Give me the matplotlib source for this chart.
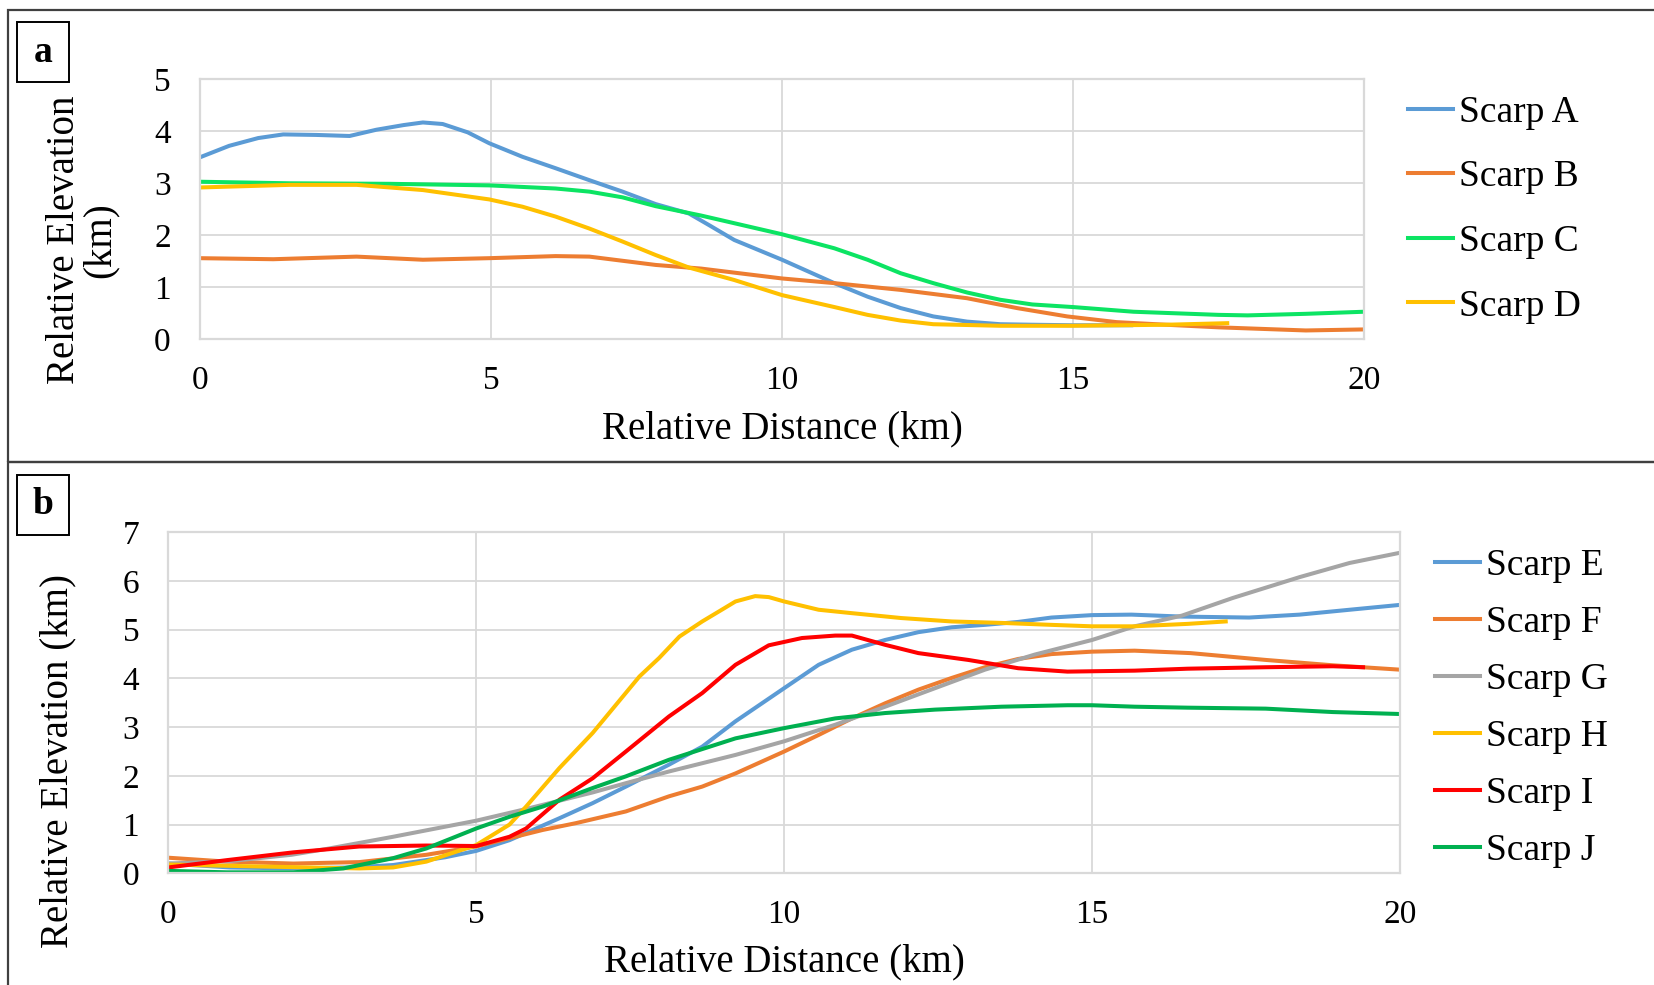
import matplotlib
matplotlib.use("Agg")
import matplotlib.pyplot as plt
from matplotlib.patches import Rectangle

plt.rcParams['font.family'] = ['Liberation Serif', 'DejaVu Serif']

# ---- panel a data (km) ----
a_x = [0, 0.5, 1.0, 1.43, 2.0, 2.57, 3.03, 3.5, 3.83, 4.17, 4.6, 4.97, 5.54, 6.11, 6.69,
       7.26, 7.83, 8.4, 8.74, 9.18, 10, 10.9, 11.47, 12.04, 12.6, 13.18, 13.75, 14.3, 15, 16]
a_y = [3.5, 3.72, 3.87, 3.94, 3.93, 3.91, 4.03, 4.12, 4.17, 4.14, 3.98, 3.77, 3.51, 3.29, 3.06,
       2.84, 2.6, 2.42, 2.2, 1.91, 1.53, 1.08, 0.82, 0.6, 0.44, 0.34, 0.29, 0.28, 0.27, 0.27]

b_x = [0, 1.26, 2.69, 3.83, 4.97, 6.11, 6.69, 7.26, 7.83, 8.61, 10, 10.9, 12.04, 13.18,
       14.04, 14.9, 15.75, 16.6, 17.5, 18, 19, 20]
b_y = [1.56, 1.54, 1.59, 1.53, 1.56, 1.60, 1.59, 1.51, 1.43, 1.36, 1.17, 1.08, 0.95, 0.79,
       0.6, 0.44, 0.33, 0.28, 0.23, 0.21, 0.17, 0.19]

c_x = [0, 1.54, 3.26, 4.97, 6.11, 6.69, 7.26, 7.83, 8.61, 10, 10.9, 11.47, 12.04, 12.6,
       13.18, 13.75, 14.3, 15, 16.04, 17.5, 18, 19, 20]
c_y = [3.03, 3.0, 2.99, 2.96, 2.90, 2.84, 2.73, 2.56, 2.38, 2.02, 1.75, 1.53, 1.27, 1.08,
       0.9, 0.76, 0.67, 0.62, 0.53, 0.47, 0.46, 0.49, 0.53]

d_x = [0, 1.54, 2.69, 3.83, 4.97, 5.54, 6.11, 6.69, 7.26, 7.83, 8.4, 9.18, 10, 10.9,
       11.47, 12.04, 12.6, 13.75, 15, 16.6, 17.65]
d_y = [2.92, 2.97, 2.97, 2.87, 2.69, 2.55, 2.36, 2.13, 1.88, 1.62, 1.38, 1.14, 0.85, 0.62,
       0.47, 0.36, 0.29, 0.26, 0.26, 0.28, 0.31]

# ---- panel b data (km) ----
e_x = [0, 1, 2, 3, 3.65, 4.5, 5, 5.54, 6.35, 6.89, 7.43, 8.13, 8.67, 9.21, 10, 10.56, 11.1,
       11.64, 12.18, 12.72, 13.26, 13.8, 14.34, 15, 15.64, 16.46, 17.55, 18.37, 19.18, 20]
e_y = [0.2, 0.12, 0.1, 0.12, 0.17, 0.33, 0.46, 0.68, 1.13, 1.44, 1.78, 2.23, 2.6, 3.12, 3.8,
       4.28, 4.59, 4.79, 4.95, 5.05, 5.1, 5.16, 5.25, 5.3, 5.31, 5.27, 5.25, 5.31, 5.41, 5.51]

f_x = [0, 0.95, 2.03, 3.1, 4.19, 5, 5.54, 6.08, 6.62, 7.43, 8.13, 8.67, 9.21, 10, 10.56,
       11.1, 11.64, 12.18, 12.72, 13.26, 13.8, 14.34, 15, 15.69, 16.6, 17.82, 18.91, 20]
f_y = [0.32, 0.24, 0.2, 0.23, 0.38, 0.55, 0.72, 0.89, 1.03, 1.27, 1.58, 1.78, 2.05, 2.5,
       2.84, 3.18, 3.49, 3.77, 4.01, 4.23, 4.4, 4.5, 4.55, 4.57, 4.52, 4.38, 4.27, 4.18]

g_x = [0, 1, 2, 2.57, 3.65, 5, 5.81, 6.89, 7.43, 8.13, 9.21, 10, 10.83, 11.64, 12.45,
       13.26, 14.07, 15, 15.69, 16.46, 17.28, 18.37, 19.18, 20]
g_y = [0.2, 0.25, 0.38, 0.5, 0.75, 1.08, 1.32, 1.66, 1.85, 2.09, 2.43, 2.71, 3.05, 3.42,
       3.8, 4.18, 4.49, 4.79, 5.07, 5.29, 5.65, 6.08, 6.37, 6.58]

h_x = [0, 1.49, 3.1, 3.65, 4.19, 5, 5.54, 5.81, 6.35, 6.89, 7.65, 7.97, 8.3, 8.67, 9.0, 9.21,
       9.53, 9.75, 10, 10.56, 11.1, 11.9, 12.72, 13.53, 14.34, 15, 15.69, 16.55, 17.17]
h_y = [0.18, 0.14, 0.1, 0.12, 0.24, 0.58, 1.0, 1.37, 2.16, 2.88, 4.04, 4.42, 4.86, 5.17, 5.42,
       5.58, 5.69, 5.67, 5.58, 5.41, 5.34, 5.24, 5.17, 5.14, 5.1, 5.07, 5.07, 5.12, 5.17]

i_x = [0, 0.95, 2.03, 3.1, 4.19, 5, 5.54, 5.81, 6.35, 6.89, 7.43, 8.13, 8.67, 9.21, 9.75,
       10.29, 10.83, 11.1, 11.64, 12.18, 12.99, 13.8, 14.6, 15.69, 16.55, 17.82, 18.91, 19.4]
i_y = [0.12, 0.27, 0.43, 0.55, 0.57, 0.56, 0.75, 0.92, 1.51, 1.95, 2.5, 3.22, 3.7, 4.28,
       4.68, 4.83, 4.88, 4.88, 4.69, 4.52, 4.38, 4.21, 4.14, 4.16, 4.2, 4.23, 4.25, 4.23]

j_x = [0, 0.95, 2.03, 2.84, 3.65, 4.19, 5, 5.54, 6.08, 6.89, 7.43, 8.13, 9.21, 10, 10.83,
       11.64, 12.45, 13.53, 14.6, 15, 15.69, 16.55, 17.82, 18.91, 20]
j_y = [0.05, 0.02, 0.02, 0.1, 0.31, 0.51, 0.92, 1.16, 1.37, 1.75, 1.99, 2.33, 2.77, 2.98,
       3.18, 3.29, 3.36, 3.42, 3.45, 3.45, 3.42, 3.4, 3.38, 3.31, 3.27]

panel_a = [("Scarp A", a_x, a_y, "#5b9bd5"), ("Scarp B", b_x, b_y, "#ed7d31"),
           ("Scarp C", c_x, c_y, "#0ce463"), ("Scarp D", d_x, d_y, "#ffc000")]
panel_b = [("Scarp E", e_x, e_y, "#5b9bd5"), ("Scarp F", f_x, f_y, "#ed7d31"),
           ("Scarp G", g_x, g_y, "#a5a5a5"), ("Scarp H", h_x, h_y, "#ffc000"),
           ("Scarp I", i_x, i_y, "#ff0000"), ("Scarp J", j_x, j_y, "#00b050")]

W, H = 1654, 985
fig = plt.figure(figsize=(W / 100, H / 100), dpi=100)


def px_box(x0, y0, x1, y1):
    # pixel box (top-left origin) -> figure fraction rect
    return [x0 / W, 1 - y1 / H, (x1 - x0) / W, (y1 - y0) / H]


def style_axes(ax, ymax):
    ax.set_xlim(0, 20)
    ax.set_ylim(0, ymax)
    ax.set_xticks(range(0, 21, 5))
    ax.set_yticks(range(0, ymax + 1))
    ax.grid(color="#d9d9d9", lw=1.3)
    ax.set_axisbelow(True)
    for s in ax.spines.values():
        s.set_color("#d9d9d9")
        s.set_linewidth(1.6)
    ax.tick_params(axis="both", length=0, labelsize=24)
    ax.tick_params(axis="x", pad=19)
    ax.tick_params(axis="y", pad=21)


axa = fig.add_axes(px_box(200, 79.3, 1364, 339.3))
for name, xs, ys, col in panel_a:
    axa.plot(xs, ys, color=col, lw=2.9, label=name, solid_joinstyle="round")
style_axes(axa, 5)
axa.set_xlabel("Relative Distance (km)", fontsize=28, va="center")
axa.xaxis.set_label_coords(0.5, -0.345)
axa.set_ylabel("Relative Elevation\n(km)", fontsize=28, va="center", linespacing=0.95)
axa.yaxis.set_label_coords(-0.101, 0.382)
axa.legend(loc="center left", bbox_to_anchor=(1408 / W, 1 - 209.5 / H),
           bbox_transform=fig.transFigure, frameon=False, fontsize=27,
           handlelength=1.2, handletextpad=0.15, labelspacing=0.8,
           borderpad=0, borderaxespad=0)

axb = fig.add_axes(px_box(168.3, 532.3, 1400, 873.3))
for name, xs, ys, col in panel_b:
    axb.plot(xs, ys, color=col, lw=2.9, label=name, solid_joinstyle="round")
style_axes(axb, 7)
axb.set_xlabel("Relative Distance (km)", fontsize=28, va="center")
axb.xaxis.set_label_coords(0.5, -0.26)
axb.set_ylabel("Relative Elevation (km)", fontsize=28, va="center")
axb.yaxis.set_label_coords(-0.0896, 0.329)
axb.legend(loc="center left", bbox_to_anchor=(1435 / W, 1 - 708 / H),
           bbox_transform=fig.transFigure, frameon=False, fontsize=27,
           handlelength=1.2, handletextpad=0.15, labelspacing=0.6,
           borderpad=0, borderaxespad=0)

# outer panel frames
for box in [(8, 10, 1670, 462), (8, 462, 1670, 1000)]:
    r = px_box(*box)
    fig.add_artist(Rectangle((r[0], r[1]), r[2], r[3], transform=fig.transFigure,
                             fill=False, ec="#404040", lw=1.6, clip_on=False))

# panel letters
for letter, (x0, y0, x1, y1) in [("a", (17, 22, 69, 82)), ("b", (17, 475, 69, 535))]:
    r = px_box(x0, y0, x1, y1)
    fig.add_artist(Rectangle((r[0], r[1]), r[2], r[3], transform=fig.transFigure,
                             fill=False, ec="black", lw=1.4))
    fig.text((x0 + x1) / 2 / W, 1 - (y0 + y1) / 2 / H, letter, fontsize=27,
             fontweight="bold", ha="center", va="center")

fig.savefig("out.png", dpi=100)
